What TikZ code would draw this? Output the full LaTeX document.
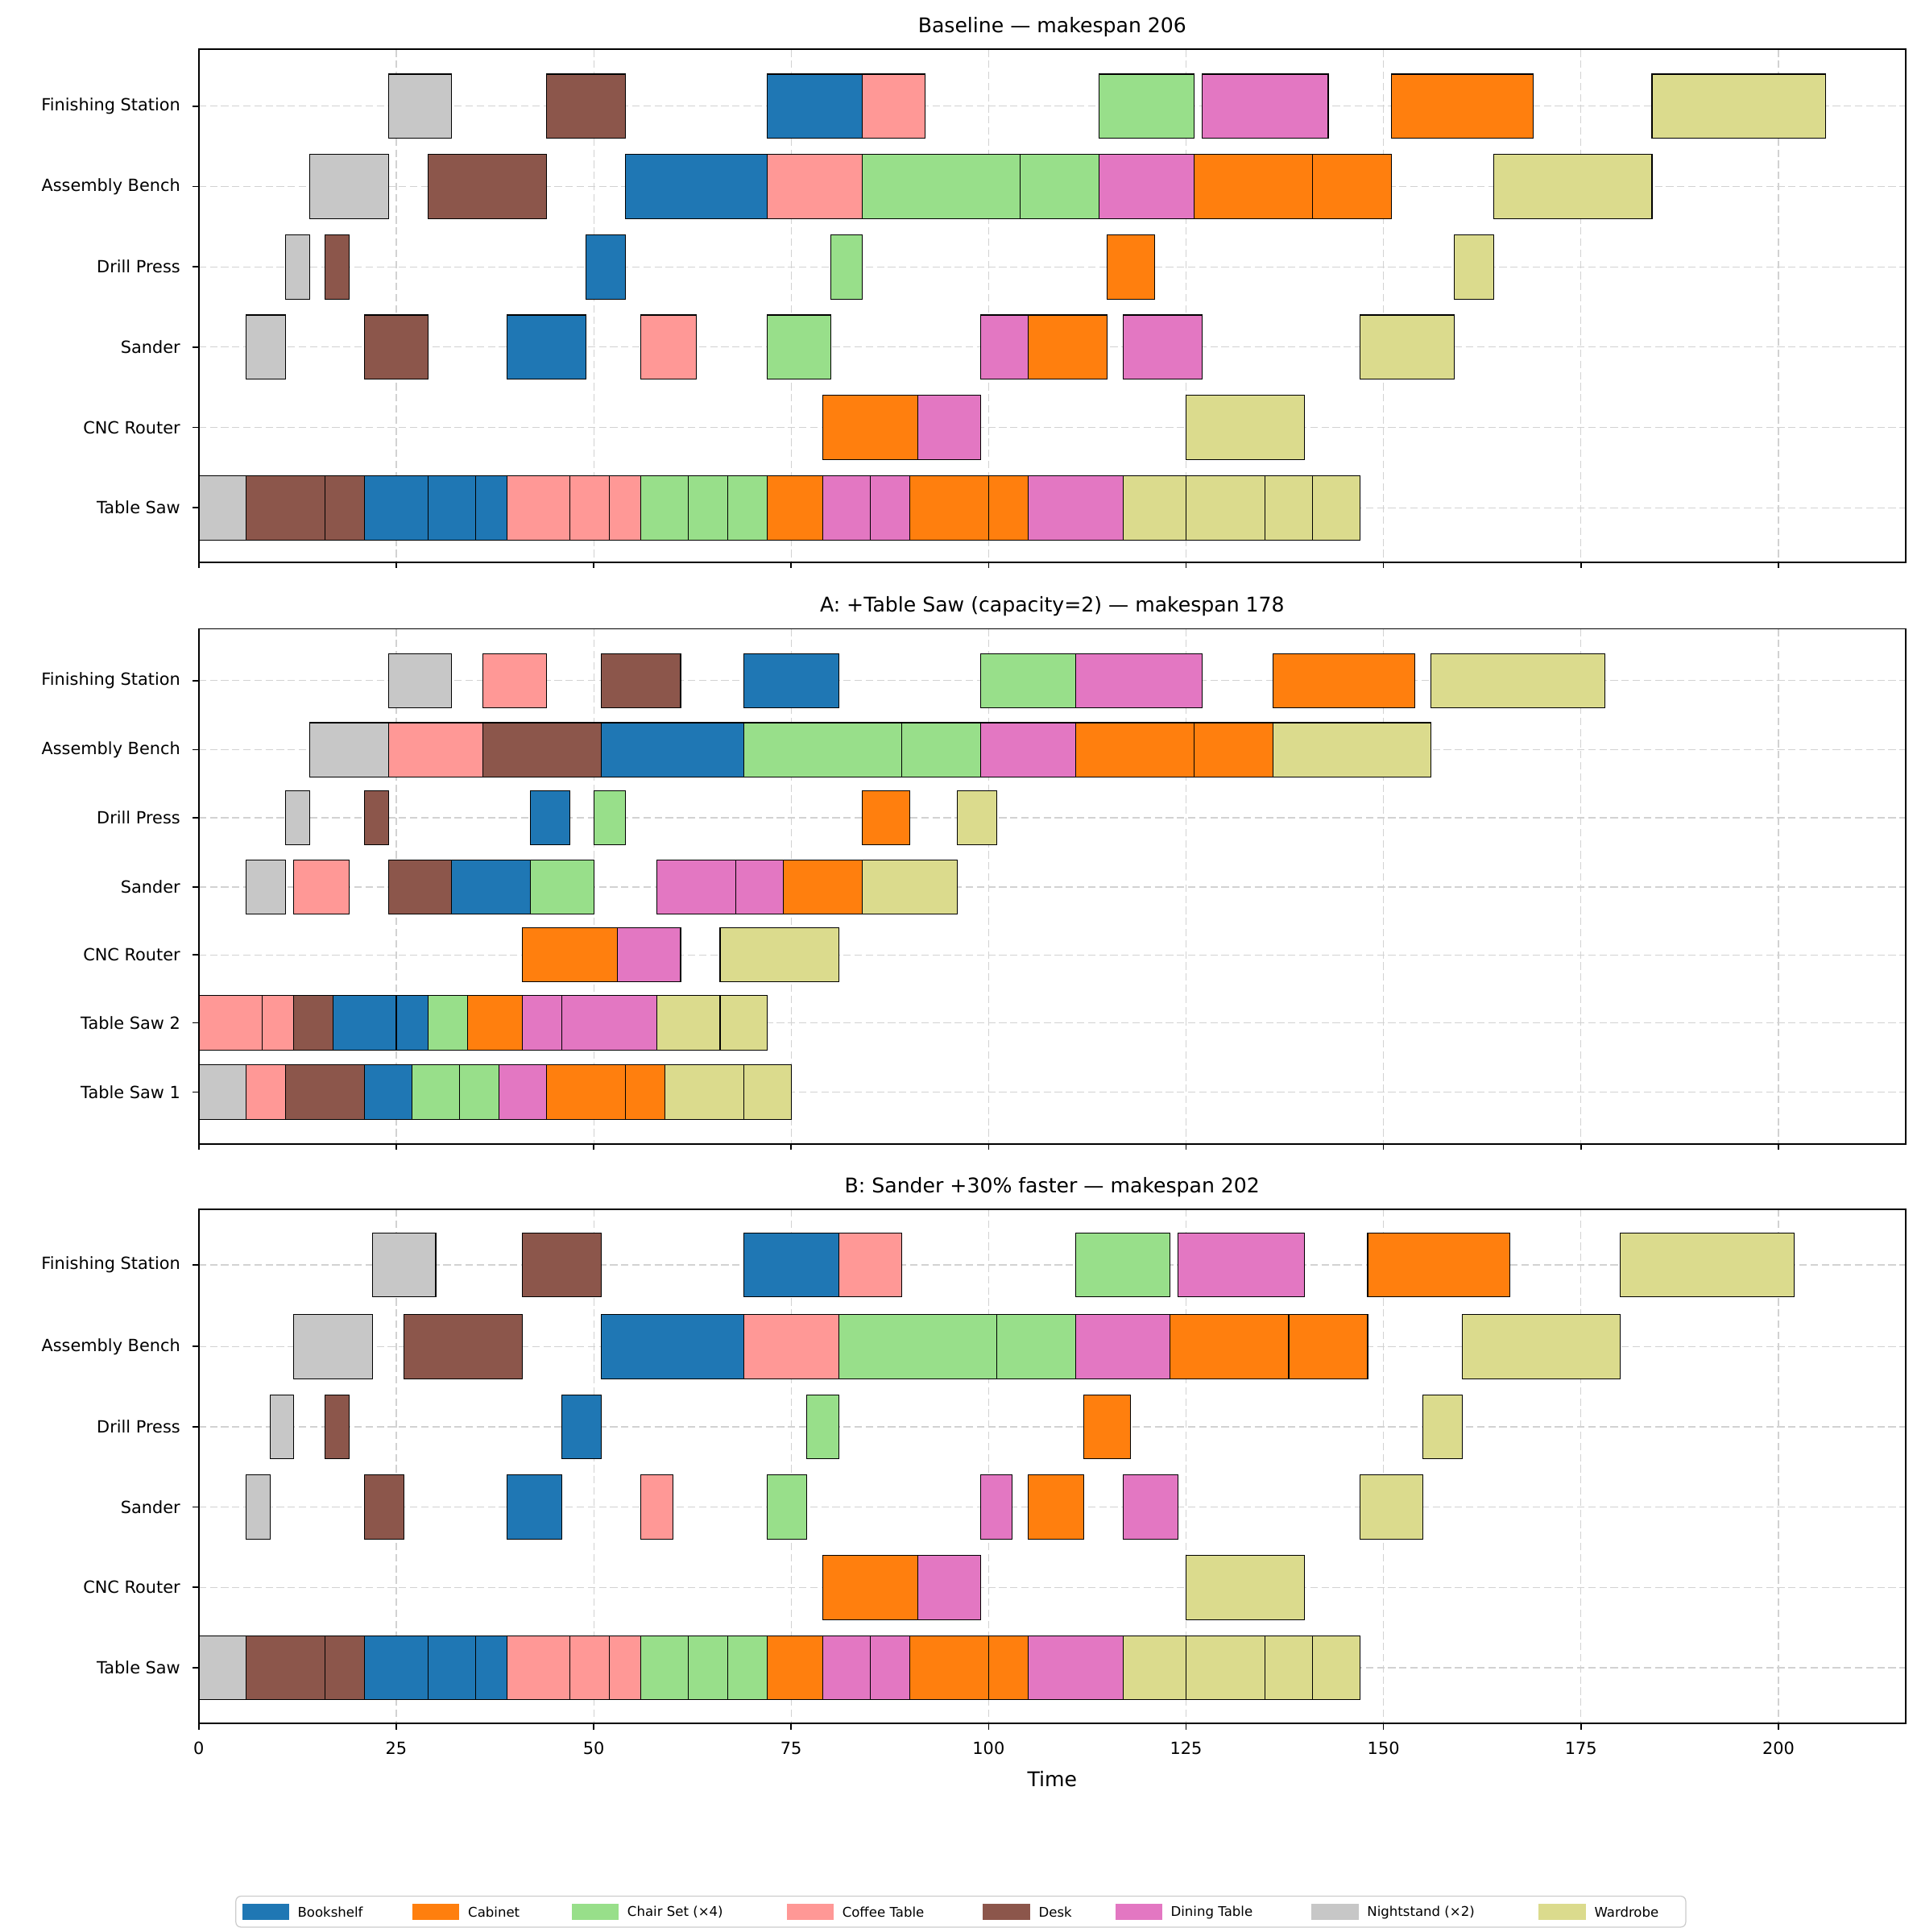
\documentclass[tikz,border=0pt]{standalone}
\usepackage{fontspec}
\setmainfont{DejaVu Sans}
\begin{document}
\definecolor{Bo}{HTML}{1F77B4}\definecolor{Ca}{HTML}{FF7F0E}\definecolor{Ch}{HTML}{98DF8A}
\definecolor{Co}{HTML}{FF9896}\definecolor{De}{HTML}{8C564B}\definecolor{Di}{HTML}{E377C2}
\definecolor{Ni}{HTML}{C7C7C7}\definecolor{Wa}{HTML}{DBDB8D}
\begin{tikzpicture}[x=0.5pt,y=-0.5pt,
 gbar/.style={draw=black,line width=0.35pt},
 grid/.style={gray!35,dash pattern=on 3pt off 1.5pt,line width=0.4pt},
 ylab/.style={anchor=east,font=\fontsize{6.8}{8}\selectfont},
 xlab/.style={anchor=north,font=\fontsize{6.8}{8}\selectfont},
 ttl/.style={font=\fontsize{8.2}{10}\selectfont},
 leg/.style={anchor=west,font=\fontsize{5.4}{7}\selectfont}]
\useasboundingbox (0,0) rectangle (1552,1564);
\def\hh{26}
\newcommand\gb[4]{\path[gbar,fill=#4] ({161+6.395*(#2)},{#1-\hh}) rectangle ({161+6.395*(#3)},{#1+\hh});}
\newcommand\panel[2]{% top, bottom
 \foreach \t in {0,25,...,200}{\draw[grid] ({161+6.395*\t},#1) -- ({161+6.395*\t},#2);
  \draw[line width=0.5pt] ({161+6.395*\t},#2) -- ({161+6.395*\t},#2+5);}}
\newcommand\ylabel[2]{\draw[grid] (161,#1) -- (1543,#1); \draw[line width=0.5pt] (161,#1) -- (156,#1); \node[ylab] at (153,#1) {#2};}
% ---------- Panel 1
\panel{40}{455}
\ylabel{86}{Finishing Station}\ylabel{151}{Assembly Bench}\ylabel{216}{Drill Press}
\ylabel{281}{Sander}\ylabel{346}{CNC Router}\ylabel{411}{Table Saw}
\node[ttl] at (852,22) {Baseline — makespan 206};
\def\r{411}
\gb\r{0}{6}{Ni}\gb\r{6}{16}{De}\gb\r{16}{21}{De}\gb\r{21}{29}{Bo}\gb\r{29}{35}{Bo}\gb\r{35}{39}{Bo}
\gb\r{39}{47}{Co}\gb\r{47}{52}{Co}\gb\r{52}{56}{Co}\gb\r{56}{62}{Ch}\gb\r{62}{67}{Ch}\gb\r{67}{72}{Ch}
\gb\r{72}{79}{Ca}\gb\r{79}{85}{Di}\gb\r{85}{90}{Di}\gb\r{90}{100}{Ca}\gb\r{100}{105}{Ca}\gb\r{105}{117}{Di}
\gb\r{117}{125}{Wa}\gb\r{125}{135}{Wa}\gb\r{135}{141}{Wa}\gb\r{141}{147}{Wa}
\def\r{346}\gb\r{79}{91}{Ca}\gb\r{91}{99}{Di}\gb\r{125}{140}{Wa}
\def\r{281}\gb\r{6}{11}{Ni}\gb\r{21}{29}{De}\gb\r{39}{49}{Bo}\gb\r{56}{63}{Co}\gb\r{72}{80}{Ch}
\gb\r{99}{105}{Di}\gb\r{105}{115}{Ca}\gb\r{117}{127}{Di}\gb\r{147}{159}{Wa}
\def\r{216}\gb\r{11}{14}{Ni}\gb\r{16}{19}{De}\gb\r{49}{54}{Bo}\gb\r{80}{84}{Ch}\gb\r{115}{121}{Ca}\gb\r{159}{164}{Wa}
\def\r{151}\gb\r{14}{24}{Ni}\gb\r{29}{44}{De}\gb\r{54}{72}{Bo}\gb\r{72}{84}{Co}\gb\r{84}{104}{Ch}\gb\r{104}{114}{Ch}
\gb\r{114}{126}{Di}\gb\r{126}{141}{Ca}\gb\r{141}{151}{Ca}\gb\r{164}{184}{Wa}
\def\r{86}\gb\r{24}{32}{Ni}\gb\r{44}{54}{De}\gb\r{72}{84}{Bo}\gb\r{84}{92}{Co}\gb\r{114}{126}{Ch}
\gb\r{127}{143}{Di}\gb\r{151}{169}{Ca}\gb\r{184}{206}{Wa}
\draw[line width=0.6pt] (161,40) rectangle (1543,455);
% ---------- Panel 2
\def\hh{22}
\panel{509}{926}
\ylabel{551}{Finishing Station}\ylabel{607}{Assembly Bench}\ylabel{662}{Drill Press}
\ylabel{718}{Sander}\ylabel{773}{CNC Router}\ylabel{828}{Table Saw 2}\ylabel{884}{Table Saw 1}
\node[ttl] at (852,491) {A: +Table Saw (capacity=2) — makespan 178};
\def\r{884}\gb\r{0}{6}{Ni}\gb\r{6}{11}{Co}\gb\r{11}{21}{De}\gb\r{21}{27}{Bo}\gb\r{27}{33}{Ch}\gb\r{33}{38}{Ch}
\gb\r{38}{44}{Di}\gb\r{44}{54}{Ca}\gb\r{54}{59}{Ca}\gb\r{59}{69}{Wa}\gb\r{69}{75}{Wa}
\def\r{828}\gb\r{0}{8}{Co}\gb\r{8}{12}{Co}\gb\r{12}{17}{De}\gb\r{17}{25}{Bo}\gb\r{25}{29}{Bo}\gb\r{29}{34}{Ch}
\gb\r{34}{41}{Ca}\gb\r{41}{46}{Di}\gb\r{46}{58}{Di}\gb\r{58}{66}{Wa}\gb\r{66}{72}{Wa}
\def\r{773}\gb\r{41}{53}{Ca}\gb\r{53}{61}{Di}\gb\r{66}{81}{Wa}
\def\r{718}\gb\r{6}{11}{Ni}\gb\r{12}{19}{Co}\gb\r{24}{32}{De}\gb\r{32}{42}{Bo}\gb\r{42}{50}{Ch}
\gb\r{58}{68}{Di}\gb\r{68}{74}{Di}\gb\r{74}{84}{Ca}\gb\r{84}{96}{Wa}
\def\r{662}\gb\r{11}{14}{Ni}\gb\r{21}{24}{De}\gb\r{42}{47}{Bo}\gb\r{50}{54}{Ch}\gb\r{84}{90}{Ca}\gb\r{96}{101}{Wa}
\def\r{607}\gb\r{14}{24}{Ni}\gb\r{24}{36}{Co}\gb\r{36}{51}{De}\gb\r{51}{69}{Bo}\gb\r{69}{89}{Ch}\gb\r{89}{99}{Ch}
\gb\r{99}{111}{Di}\gb\r{111}{126}{Ca}\gb\r{126}{136}{Ca}\gb\r{136}{156}{Wa}
\def\r{551}\gb\r{24}{32}{Ni}\gb\r{36}{44}{Co}\gb\r{51}{61}{De}\gb\r{69}{81}{Bo}\gb\r{99}{111}{Ch}
\gb\r{111}{127}{Di}\gb\r{136}{154}{Ca}\gb\r{156}{178}{Wa}
\draw[line width=0.6pt] (161,509) rectangle (1543,926);
% ---------- Panel 3
\def\hh{26}
\panel{979}{1395}
\ylabel{1024}{Finishing Station}\ylabel{1090}{Assembly Bench}\ylabel{1155}{Drill Press}
\ylabel{1220}{Sander}\ylabel{1285}{CNC Router}\ylabel{1350}{Table Saw}
\node[ttl] at (852,961) {B: Sander +30\% faster — makespan 202};
\def\r{1350}
\gb\r{0}{6}{Ni}\gb\r{6}{16}{De}\gb\r{16}{21}{De}\gb\r{21}{29}{Bo}\gb\r{29}{35}{Bo}\gb\r{35}{39}{Bo}
\gb\r{39}{47}{Co}\gb\r{47}{52}{Co}\gb\r{52}{56}{Co}\gb\r{56}{62}{Ch}\gb\r{62}{67}{Ch}\gb\r{67}{72}{Ch}
\gb\r{72}{79}{Ca}\gb\r{79}{85}{Di}\gb\r{85}{90}{Di}\gb\r{90}{100}{Ca}\gb\r{100}{105}{Ca}\gb\r{105}{117}{Di}
\gb\r{117}{125}{Wa}\gb\r{125}{135}{Wa}\gb\r{135}{141}{Wa}\gb\r{141}{147}{Wa}
\def\r{1285}\gb\r{79}{91}{Ca}\gb\r{91}{99}{Di}\gb\r{125}{140}{Wa}
\def\r{1220}\gb\r{6}{9}{Ni}\gb\r{21}{26}{De}\gb\r{39}{46}{Bo}\gb\r{56}{60}{Co}\gb\r{72}{77}{Ch}
\gb\r{99}{103}{Di}\gb\r{105}{112}{Ca}\gb\r{117}{124}{Di}\gb\r{147}{155}{Wa}
\def\r{1155}\gb\r{9}{12}{Ni}\gb\r{16}{19}{De}\gb\r{46}{51}{Bo}\gb\r{77}{81}{Ch}\gb\r{112}{118}{Ca}\gb\r{155}{160}{Wa}
\def\r{1090}\gb\r{12}{22}{Ni}\gb\r{26}{41}{De}\gb\r{51}{69}{Bo}\gb\r{69}{81}{Co}\gb\r{81}{101}{Ch}\gb\r{101}{111}{Ch}
\gb\r{111}{123}{Di}\gb\r{123}{138}{Ca}\gb\r{138}{148}{Ca}\gb\r{160}{180}{Wa}
\def\r{1024}\gb\r{22}{30}{Ni}\gb\r{41}{51}{De}\gb\r{69}{81}{Bo}\gb\r{81}{89}{Co}\gb\r{111}{123}{Ch}
\gb\r{124}{140}{Di}\gb\r{148}{166}{Ca}\gb\r{180}{202}{Wa}
\draw[line width=0.6pt] (161,979) rectangle (1543,1395);
\foreach \t in {0,25,...,200}{\node[xlab] at ({161+6.395*\t},1403) {\t};}
\node[ttl,font=\fontsize{8.2}{10}\selectfont] at (852,1440) {Time};
% ---------- Legend
\draw[gray!40,fill=white,rounded corners=2pt] (191,1535) rectangle (1365,1560);
\foreach \px/\c/\lab in {196/Bo/Bookshelf,334/Ca/Cabinet,463/Ch/Chair Set (×4),637/Co/Coffee Table,796/De/Desk,903/Di/Dining Table,1062/Ni/Nightstand (×2),1246/Wa/Wardrobe}{
 \path[fill=\c] (\px,1541) rectangle (\px+38,1554);
 \node[leg] at (\px+38,1548) {\lab};}
\end{tikzpicture}
\end{document}
